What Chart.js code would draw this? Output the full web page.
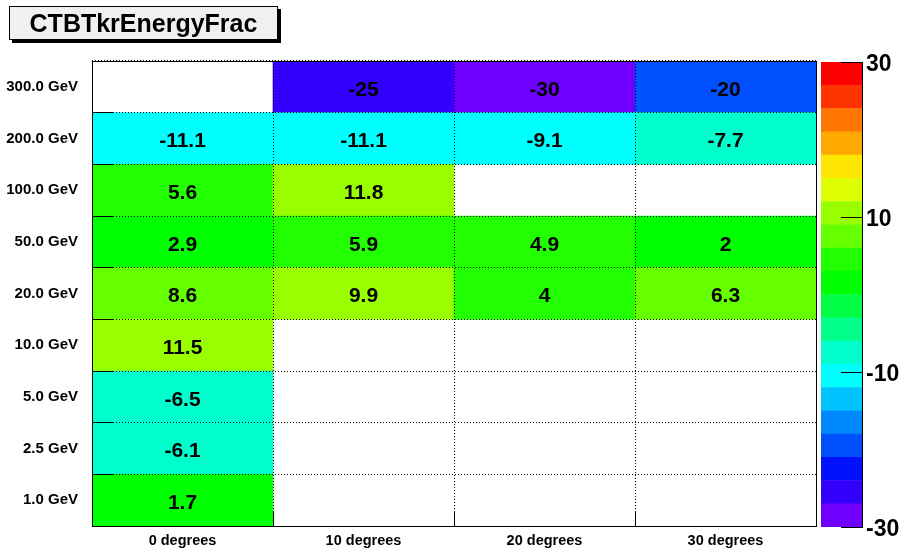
<!DOCTYPE html>
<html>
<head>
<meta charset="utf-8">
<script src="https://cdn.jsdelivr.net/npm/chart.js@4.4.1/dist/chart.umd.min.js"></script>
<style>
  html, body { margin: 0; padding: 0; background: #fff; }
  #wrap { position: relative; width: 906px; height: 555px; overflow: hidden; }
  #wrap canvas { position: absolute; top: 0; }
  #mainChart { left: 0; }
  #paletteChart { left: 780px; }
  #title {
    position: absolute; left: 9px; top: 6px; width: 267px; height: 32px;
    border: 1px solid #000; background: #f0f0f0; box-shadow: 3px 3px 0 #000;
    font: bold 25px "Liberation Sans", Arial, sans-serif; line-height: 32px;
    text-align: center; color: #000;
  }
</style>
</head>
<body>
<div id="wrap">
  <canvas id="mainChart" width="906" height="555"></canvas>
  <canvas id="paletteChart" width="126" height="555"></canvas>
  <div id="title">CTBTkrEnergyFrac</div>
</div>
<script>
// categories
const angleLabels = ['0 degrees', '10 degrees', '20 degrees', '30 degrees'];
const energyLabels = ['1.0 GeV', '2.5 GeV', '5.0 GeV', '10.0 GeV', '20.0 GeV', '50.0 GeV', '100.0 GeV', '200.0 GeV', '300.0 GeV'];

// cell values per angle, from 1.0 GeV up to 300.0 GeV (null = empty cell)
const deg0  = [1.7, -6.1, -6.5, 11.5, 8.6, 2.9, 5.6, -11.1, null];
const deg10 = [null, null, null, null, 9.9, 5.9, 11.8, -11.1, -25];
const deg20 = [null, null, null, null, 4, 4.9, null, -9.1, -30];
const deg30 = [null, null, null, null, 6.3, 2, null, -7.7, -20];

// colour scale
const zMin = -30;
const zMax = 30;
const zTicks = [-30, -10, 10, 30];

const palette = [
  '#6f00ff', '#3300ff', '#0011ff', '#0050ff', '#0088ff',
  '#00c4ff', '#00ffff', '#00ffcc', '#00ff88', '#00ff44',
  '#00ff00', '#22ff00', '#66ff00', '#99ff00', '#ddff00',
  '#ffe600', '#ffa800', '#ff7700', '#ff3300', '#ff0000'
];

const FONT = '"Liberation Sans", Arial, Helvetica, sans-serif';
const columns = [deg0, deg10, deg20, deg30];

function colorFor(v) {
  let k = Math.floor((v - zMin) / (zMax - zMin) * palette.length);
  k = Math.max(0, Math.min(palette.length - 1, k));
  return palette[k];
}

// one dataset per energy row, one floating bar per angle
const datasets = energyLabels.map((label, r) => ({
  label: label,
  data: columns.map(col => col[r] == null ? null : [r, r + 1]),
  backgroundColor: columns.map(col => col[r] == null ? 'rgba(0,0,0,0)' : colorFor(col[r])),
  borderWidth: 0,
  grouped: false,
  barPercentage: 1,
  categoryPercentage: 1
}));

function alignPx(p) {
  return Math.round(p - 0.5) + 0.5;
}

// value text in the middle of each cell
const cellText = {
  id: 'cellText',
  afterDatasetsDraw(chart) {
    const ctx = chart.ctx;
    ctx.save();
    ctx.font = 'bold 21px ' + FONT;
    ctx.fillStyle = '#000';
    ctx.textAlign = 'center';
    ctx.textBaseline = 'middle';
    chart.data.datasets.forEach((ds, r) => {
      chart.getDatasetMeta(r).data.forEach((bar, c) => {
        const v = columns[c][r];
        if (v == null) return;
        const p = bar.getProps(['x', 'y', 'base'], true);
        ctx.fillText(String(v), p.x, (p.y + p.base) / 2 + 3);
      });
    });
    ctx.restore();
  }
};

// solid frame plus the short inner tick marks
const frame = {
  id: 'frame',
  afterDraw(chart) {
    const { ctx, chartArea: a, scales } = chart;
    ctx.save();
    ctx.strokeStyle = '#000';
    ctx.lineWidth = 1;
    ctx.strokeRect(alignPx(a.left), alignPx(a.top), Math.round(a.right - a.left), Math.round(a.bottom - a.top));
    ctx.beginPath();
    for (let r = 1; r < energyLabels.length; r++) {
      const y = alignPx(scales.y.getPixelForValue(r));
      ctx.moveTo(a.left, y);
      ctx.lineTo(a.left + 21, y);
    }
    for (let c = 1; c < angleLabels.length; c++) {
      const x = alignPx((scales.x.getPixelForValue(c - 1) + scales.x.getPixelForValue(c)) / 2);
      ctx.moveTo(x, a.bottom);
      ctx.lineTo(x, a.bottom - 14);
    }
    ctx.stroke();
    ctx.restore();
  }
};

new Chart(document.getElementById('mainChart'), {
  type: 'bar',
  data: { labels: angleLabels, datasets: datasets },
  options: {
    responsive: false,
    animation: false,
    layout: { padding: { left: 0, top: 61, right: 90, bottom: 0 } },
    plugins: { legend: { display: false }, tooltip: { enabled: false } },
    scales: {
      x: {
        type: 'category',
        offset: true,
        grid: { offset: true, color: '#000', lineWidth: 1, drawTicks: false, z: 1 },
        border: { display: false, dash: [1, 2] },
        ticks: { color: '#000', font: { family: FONT, size: 14.5, weight: 'bold' }, padding: 6, maxRotation: 0 },
        afterFit: s => { s.height = 29; }
      },
      y: { type: 'linear', min: 0, max: energyLabels.length, display: false },
      yLab: {
        type: 'category',
        labels: energyLabels.slice().reverse(),
        position: 'left',
        offset: true,
        grid: { offset: true, color: '#000', lineWidth: 1, drawTicks: false, z: 1 },
        border: { display: false, dash: [1, 2] },
        ticks: { color: '#000', font: { family: FONT, size: 15, weight: 'bold' }, padding: 14 },
        afterFit: s => { s.width = 92; }
      }
    }
  },
  plugins: [cellText, frame]
});

// colour bar
const step = (zMax - zMin) / palette.length;
const paletteTicks = {
  id: 'paletteTicks',
  afterDraw(chart) {
    const { ctx, chartArea: a, scales } = chart;
    ctx.save();
    ctx.strokeStyle = '#000';
    ctx.lineWidth = 1;
    ctx.beginPath();
    zTicks.forEach(v => {
      const y = alignPx(scales.y.getPixelForValue(v));
      ctx.moveTo(a.right, y);
      ctx.lineTo(a.right - 21, y);
    });
    ctx.stroke();
    ctx.restore();
  }
};

new Chart(document.getElementById('paletteChart'), {
  type: 'bar',
  data: {
    labels: [''],
    datasets: palette.map((color, k) => ({
      data: [[zMin + k * step, zMin + (k + 1) * step]],
      backgroundColor: color,
      borderWidth: 0,
      grouped: false,
      barPercentage: 1,
      categoryPercentage: 1
    }))
  },
  options: {
    responsive: false,
    animation: false,
    layout: { padding: { left: 41, top: 62, right: 0, bottom: 28 } },
    plugins: { legend: { display: false }, tooltip: { enabled: false } },
    scales: {
      x: { display: false },
      y: {
        type: 'linear',
        position: 'right',
        min: zMin,
        max: zMax,
        afterBuildTicks: s => { s.ticks = zTicks.map(value => ({ value })); },
        grid: { display: false, drawTicks: false },
        border: { display: true, color: '#000', width: 1 },
        ticks: { color: '#000', font: { family: FONT, size: 23, weight: 'bold' }, padding: 4, labelOffset: 3 },
        afterFit: s => { s.width = 44; }
      }
    }
  },
  plugins: [paletteTicks]
});
</script>
</body>
</html>
